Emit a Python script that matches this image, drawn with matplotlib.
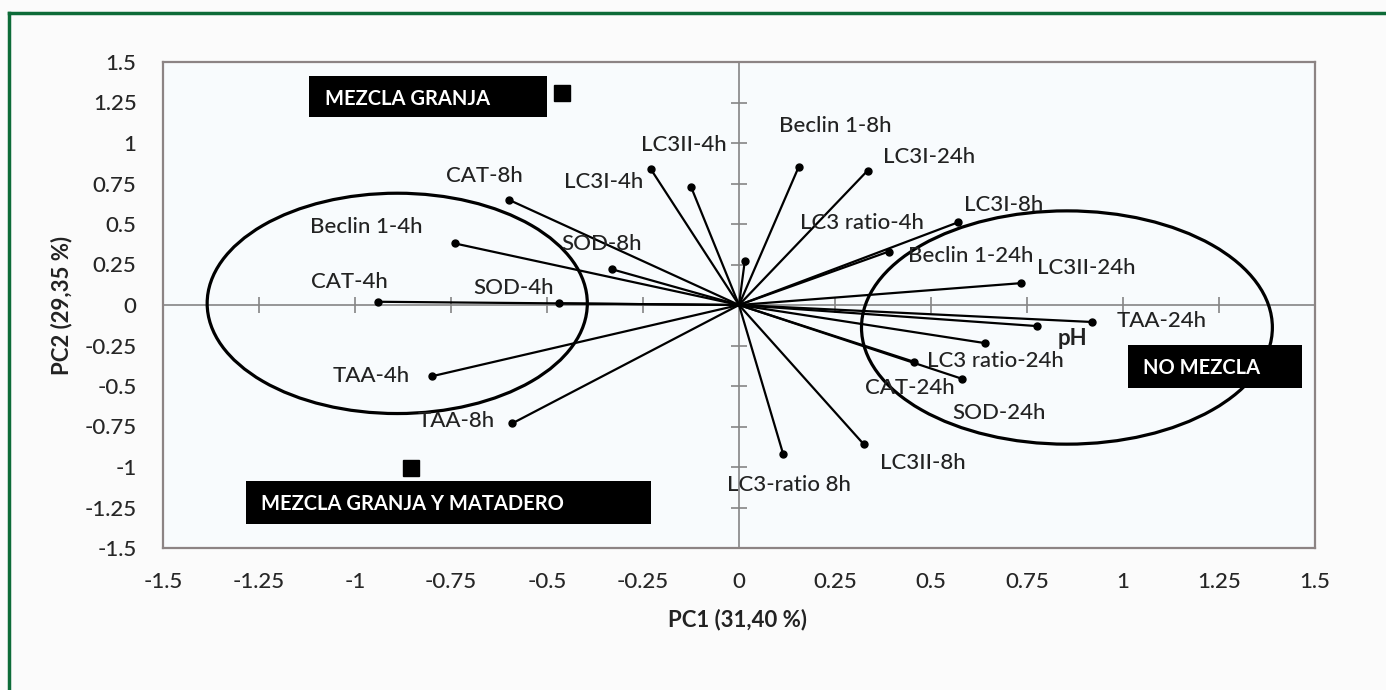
import numpy as np
import matplotlib
matplotlib.use("Agg")
import matplotlib.pyplot as plt
from matplotlib.patches import Ellipse, Rectangle
from matplotlib.lines import Line2D

plt.rcParams['font.family'] = ['Lato', 'DejaVu Sans']
plt.rcParams['axes.unicode_minus'] = False

# PCA loadings (PC1, PC2)
variables = ["CAT-4h", "SOD-4h", "Beclin 1-4h", "CAT-8h", "SOD-8h", "LC3II-4h", "LC3I-4h",
             "TAA-4h", "TAA-8h", "Beclin 1-8h", "LC3I-24h", "LC3 ratio-4h", "LC3I-8h",
             "Beclin 1-24h", "LC3II-24h", "TAA-24h", "pH", "SOD-24h", "LC3 ratio-24h",
             "CAT-24h", "LC3II-8h", "LC3-ratio 8h"]
pc1 = [-0.94, -0.47, -0.74, -0.60, -0.33, -0.23, -0.125,
       -0.80, -0.59, 0.155, 0.335, 0.015, 0.57,
       0.39, 0.735, 0.92, 0.775, 0.64, 0.455,
       0.58, 0.325, 0.115]
pc2 = [0.02, 0.01, 0.38, 0.65, 0.22, 0.84, 0.73,
       -0.44, -0.73, 0.85, 0.83, 0.27, 0.51,
       0.33, 0.135, -0.105, -0.13, -0.235, -0.35,
       -0.455, -0.86, -0.92]

# group scores
groups = ["MEZCLA GRANJA", "MEZCLA GRANJA Y MATADERO", "NO MEZCLA"]
group_pc1 = [-0.46, -0.855, 1.15]
group_pc2 = [1.31, -1.005, -0.38]

ticks = [-1.5, -1.25, -1, -0.75, -0.5, -0.25, 0, 0.25, 0.5, 0.75, 1, 1.25, 1.5]
tick_labels = ["-1.5", "-1.25", "-1", "-0.75", "-0.5", "-0.25", "0",
               "0.25", "0.5", "0.75", "1", "1.25", "1.5"]

# label offsets in pixels from the loading point
label_off = {
    "CAT-4h": (-29, 20), "SOD-4h": (-45, 15), "Beclin 1-4h": (-89, 16),
    "CAT-8h": (-24, 24), "SOD-8h": (-11, 25), "LC3II-4h": (33, 24),
    "LC3I-4h": (-87, 5), "TAA-4h": (-61, 0), "TAA-8h": (-56, 2),
    "Beclin 1-8h": (37, 41), "LC3I-24h": (61, 14), "LC3 ratio-4h": (117, 38),
    "LC3I-8h": (46, 17), "Beclin 1-24h": (82, -4), "LC3II-24h": (65, 15),
    "TAA-24h": (69, 1), "pH": (36, -12), "SOD-24h": (14, -70),
    "LC3 ratio-24h": (82, 1), "CAT-24h": (-52, -9), "LC3II-8h": (59, -19),
    "LC3-ratio 8h": (6, -31),
}

fig = plt.figure(figsize=(13.86, 6.90), dpi=100, facecolor='#fbfbfb')
ax = fig.add_axes([163/1386, 1-548/690, (1315-163)/1386, (548-62)/690])
ax.set_facecolor('#f8fbfd')
ax.set_xlim(-1.5, 1.5)
ax.set_ylim(-1.5, 1.5)

for s in ax.spines.values():
    s.set_color('#8c8484')
    s.set_linewidth(1.6)

ax.set_xticks(ticks)
ax.set_xticklabels(tick_labels, fontweight='medium')
ax.set_yticks(ticks)
ax.set_yticklabels(tick_labels, fontweight='medium')
ax.tick_params(axis='both', length=0, labelsize=16, colors='#262626')
ax.tick_params(axis='x', pad=17)
ax.tick_params(axis='y', pad=19)

# axes through origin with cross ticks
ax.axhline(0, color='#858585', lw=1.2, zorder=1)
ax.axvline(0, color='#858585', lw=1.2, zorder=1)
inner = [t for t in ticks if t != 0 and abs(t) < 1.5]
ax.plot(inner, np.zeros(len(inner)), ls='none', marker='|', ms=11, mew=1.2,
        color='#858585', zorder=1)
ax.plot(np.zeros(len(inner)), inner, ls='none', marker='_', ms=12, mew=1.2,
        color='#858585', zorder=1)

# loading vectors
for name, x, y in zip(variables, pc1, pc2):
    ax.plot([0, x], [0, y], color='black', lw=1.6, zorder=3)
    ax.plot(x, y, 'o', color='black', ms=5, zorder=4)
    dx, dy = label_off[name]
    ax.annotate(name, (x, y), xytext=(dx, dy), textcoords='offset pixels',
                ha='center', va='center', fontsize=16, color='#222222',
                fontweight='bold' if name == 'pH' else 'medium', zorder=5)

# group ellipses
ax.add_patch(Ellipse((-0.89, 0.01), 0.99, 1.36, fill=False, ec='black', lw=2.3, zorder=3))
ax.add_patch(Ellipse((0.854, -0.139), 1.07, 1.44, fill=False, ec='black', lw=2.3, zorder=3))

# group scores
ax.plot(group_pc1, group_pc2, 's', color='black', ms=11, zorder=4)

# group label boxes
boxes = [(-1.12, 1.16, 0.62, 0.254, -1.078, 1.27),
         (-1.285, -1.352, 1.056, 0.266, -1.245, -1.228),
         (1.012, -0.512, 0.453, 0.265, 1.052, -0.389)]
for name, (bx, by, bw, bh, tx, ty) in zip(groups, boxes):
    ax.add_patch(Rectangle((bx, by), bw, bh, facecolor='black', edgecolor='none', zorder=6))
    ax.text(tx, ty, name, color='white', fontsize=14.5, fontweight='bold',
            ha='left', va='center', zorder=7)

fig.text(738/1386, 1-620/690, "PC1 (31,40 %)", ha='center', va='center',
         fontsize=16, fontweight='bold', color='#222222')
fig.text(62/1386, 1-305/690, "PC2 (29,35 %)", ha='center', va='center',
         rotation=90, fontsize=16, fontweight='bold', color='#222222')

# green frame of the figure
fig.add_artist(Line2D([9/1386, 1], [1-13/690, 1-13/690], color='#0d6b38', lw=2.5,
                      transform=fig.transFigure))
fig.add_artist(Line2D([9/1386, 9/1386], [0, 1-13/690], color='#0d6b38', lw=2.5,
                      transform=fig.transFigure))

fig.savefig('out.png', dpi=100, facecolor=fig.get_facecolor())
